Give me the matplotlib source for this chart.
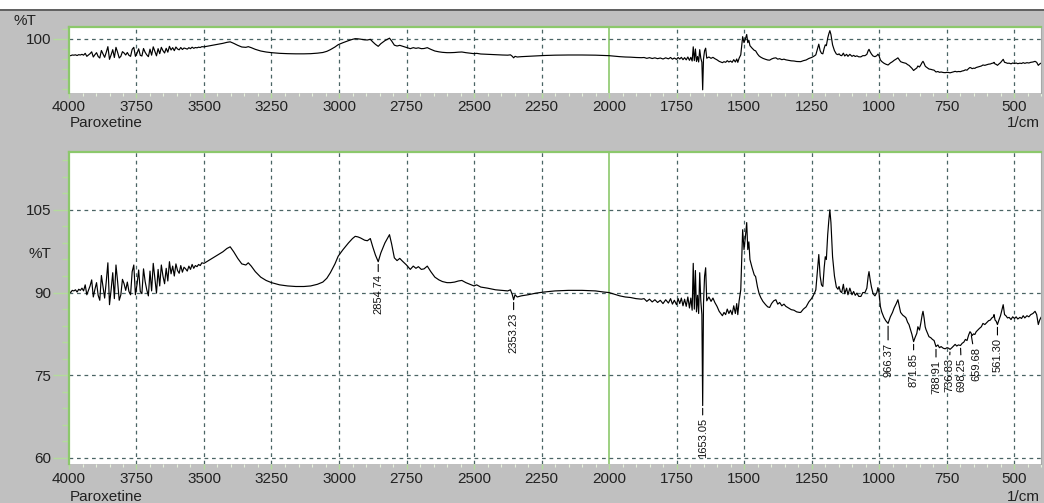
import numpy as np
import matplotlib
matplotlib.use("Agg")
import matplotlib.pyplot as plt
from matplotlib.ticker import FixedLocator, MultipleLocator
from matplotlib.patches import Rectangle
from matplotlib.lines import Line2D

plt.rcParams['font.family'] = ['Liberation Sans', 'DejaVu Sans']

# spectrum: wavenumber (1/cm) and %T
wn = [4000, 3994, 3988, 3982, 3976, 3970, 3964, 3958, 3952, 3946,
      3940, 3934, 3928, 3922, 3916, 3910, 3904, 3898, 3892, 3886,
      3880, 3874, 3868, 3862, 3856, 3850, 3844, 3838, 3832, 3826,
      3820, 3814, 3808, 3802, 3796, 3790, 3784, 3778, 3772, 3766,
      3760, 3754, 3748, 3742, 3736, 3730, 3724, 3718, 3712, 3706,
      3700, 3694, 3688, 3682, 3676, 3670, 3664, 3658, 3652, 3646,
      3640, 3634, 3628, 3622, 3616, 3610, 3604, 3598, 3592, 3586,
      3580, 3574, 3568, 3562, 3556, 3550, 3544, 3538, 3532, 3526,
      3520, 3514, 3508, 3500,
      3490, 3470, 3450, 3430, 3415, 3403, 3390, 3375, 3360, 3345,
      3336, 3325, 3310, 3290, 3270, 3250, 3220, 3190, 3160, 3130,
      3105, 3080, 3060, 3045, 3032, 3015, 3003, 2985, 2965, 2950,
      2940, 2930, 2920, 2905, 2895, 2884, 2875, 2865, 2854.74, 2845,
      2830, 2813, 2805, 2795, 2785, 2775, 2765, 2750, 2736, 2725,
      2715, 2706, 2695, 2685, 2673, 2660, 2645, 2630, 2617, 2600,
      2587, 2572, 2558, 2545, 2530, 2515, 2500, 2490, 2475, 2450,
      2420, 2395, 2375, 2365, 2358, 2353.23, 2348, 2340, 2325, 2300,
      2270, 2240, 2200, 2150, 2100, 2050, 2020, 2000, 1980, 1960,
      1940, 1920, 1900, 1880, 1870, 1860, 1850, 1840, 1830, 1820,
      1810, 1800, 1790, 1780, 1772, 1765, 1758, 1750, 1744, 1738,
      1732, 1726, 1720, 1714, 1708, 1702, 1697, 1692, 1688, 1684,
      1680, 1676, 1672, 1668, 1664, 1660, 1656, 1653.05, 1650, 1646,
      1642, 1638, 1630, 1622, 1615, 1608, 1600, 1592, 1586, 1580,
      1574, 1568, 1562, 1556, 1550, 1544, 1538, 1532, 1527, 1523,
      1518, 1512, 1508, 1505, 1500, 1495, 1490, 1486, 1482, 1478,
      1470, 1462, 1457, 1450, 1444, 1438, 1430, 1420, 1412, 1405,
      1398, 1390, 1382, 1375, 1368, 1360, 1352, 1345, 1335, 1325,
      1315, 1305, 1295, 1290, 1280, 1270, 1260, 1250, 1245, 1238,
      1234, 1228, 1223, 1218, 1213, 1208, 1203, 1199, 1195, 1190,
      1186, 1182, 1178, 1172, 1165, 1158, 1152, 1148, 1143, 1138,
      1132, 1127, 1120, 1115, 1108, 1100, 1094, 1088, 1082, 1075,
      1067, 1060, 1052, 1045, 1040, 1037, 1033, 1028, 1022, 1015,
      1008, 1004, 1000, 995, 990, 982, 975, 966.37, 958, 950,
      944, 936, 930, 926, 920, 912, 904, 900, 894, 889,
      884, 878, 871.85, 866, 860, 856, 850, 845, 840, 837,
      833, 829, 826, 820, 815, 808, 802, 796, 788.91, 782,
      776, 770, 762, 755, 748, 742, 736.83, 730, 724, 718,
      712, 706, 698.25, 692, 686, 680, 674, 668, 663, 659.68,
      655, 650, 645, 640, 634, 628, 621, 615, 608, 600,
      594, 588, 582, 576, 574, 570, 566, 561.30, 556, 550,
      545, 540, 535, 530, 524, 518, 511, 505, 498, 492,
      486, 478, 472, 466, 460, 452, 445, 438, 430, 422,
      416, 410, 405, 400]

T = [90.2, 90.0, 90.4, 90.3, 90.5, 90.1, 90.6, 90.4, 90.8, 90.3,
     91.4, 89.6, 90.4, 91.2, 92.3, 89.2, 90.6, 91.8, 89.5, 88.6,
     93.1, 91.0, 89.0, 92.0, 95.4, 87.8, 90.5, 93.6, 88.9, 95.0,
     92.0, 88.6, 89.6, 92.4, 91.6, 90.4, 91.9, 90.2, 89.6, 93.8,
     95.0, 89.6, 91.5, 94.1, 90.2, 89.8, 94.3, 92.0, 90.5, 89.4,
     93.9, 90.3, 95.3, 92.6, 89.9, 94.2, 91.2, 95.0, 93.0, 91.6,
     94.4, 92.1, 95.6, 93.4, 94.8, 93.0, 95.2, 94.0, 93.5, 94.9,
     93.7, 94.6, 94.3, 93.9, 94.8, 94.2, 95.1, 94.4, 94.9, 94.7,
     95.1, 94.9, 95.4, 95.3,
     95.6, 96.2, 96.8, 97.4, 98.0, 98.3, 97.4, 96.2, 95.2, 95.0,
     95.4, 94.8, 93.8, 92.8, 92.2, 91.8, 91.4, 91.2, 91.1, 91.1,
     91.2, 91.5, 91.9, 92.6, 93.6, 95.2, 96.6, 97.8, 99.0, 99.8,
     100.2, 100.1, 99.9, 99.5, 99.4, 99.8, 98.3, 96.8, 95.6, 97.2,
     99.0, 100.5, 98.8, 96.3, 95.8, 96.2, 95.7, 95.0, 94.2, 94.8,
     94.4, 94.7, 94.2, 94.3, 94.8, 93.8, 92.8, 92.3, 92.0, 91.8,
     91.8, 91.9, 92.1, 92.2, 91.8, 91.5, 91.2, 91.4, 91.0, 90.8,
     90.5, 90.4, 90.3, 90.5, 89.6, 88.7, 89.6, 89.2, 89.4, 89.6,
     89.9, 90.1, 90.3, 90.4, 90.4, 90.3, 90.1, 90.0, 89.7, 89.4,
     89.2, 89.1, 88.9, 88.8, 88.9, 88.4, 88.8, 88.3, 88.7, 88.2,
     88.6, 88.0, 88.7, 88.1, 88.9, 87.9, 88.6, 87.8, 88.9, 88.0,
     89.0, 87.6, 88.8, 87.5, 89.2, 87.2, 89.0, 86.8, 95.3, 87.0,
     94.0, 86.5, 89.5, 86.2, 93.6, 88.5, 86.0, 69.5, 88.0, 93.0,
     94.5, 88.5, 89.2, 88.4, 89.0, 88.2, 87.5, 86.6, 86.2, 85.8,
     86.4, 86.0, 87.0, 86.2, 86.8, 86.0, 87.6, 86.2, 88.0, 86.0,
     88.5, 90.5, 96.5, 101.4, 97.8, 100.0, 102.7, 97.8, 99.2, 96.0,
     94.5, 93.2, 92.9, 91.0, 89.8, 89.1, 88.4, 87.8, 87.4, 87.3,
     88.0, 88.5, 88.7, 87.9, 88.2, 87.6, 87.9, 87.5, 87.2, 86.9,
     86.8, 86.5, 86.4, 86.4, 87.0, 87.4, 88.3, 88.9, 89.3, 90.0,
     90.5, 94.0, 96.9, 93.0, 91.4, 91.1, 94.5, 96.5, 96.0, 100.5,
     103.0, 105.0, 102.7, 96.5, 93.0, 91.0, 90.6, 91.1, 90.2, 90.0,
     91.5, 89.8, 90.8, 89.6, 90.8, 89.6, 90.2, 89.5, 89.9, 89.3,
     89.3, 90.0, 90.0, 90.8, 93.0, 93.8, 92.4, 91.0, 89.8, 89.4,
     90.0, 90.9, 90.0, 87.5, 86.5, 85.5, 84.9, 84.4, 85.6, 86.4,
     87.2, 88.0, 88.7, 87.8, 86.4, 85.9, 85.6, 85.4, 84.6, 84.2,
     83.4, 82.4, 81.1, 81.9, 82.6, 83.8, 83.2, 84.5, 86.0, 86.6,
     85.4, 83.8, 83.3, 82.6, 82.0, 81.8, 81.5, 81.3, 80.2, 80.5,
     80.0, 80.2, 79.9, 79.8, 80.0, 79.9, 79.7, 80.0, 80.3, 80.6,
     80.3, 80.5, 80.4, 80.8, 81.0, 81.5, 81.3, 82.3, 82.9, 82.7,
     82.2, 82.5, 82.4, 82.9, 83.2, 83.5, 83.8, 84.4, 84.2, 84.6,
     84.9, 85.0, 85.4, 85.6, 86.0, 85.0, 84.8, 84.2, 85.0, 85.8,
     86.8, 87.8, 86.0, 85.8, 85.4, 85.5, 85.1, 85.6, 85.3, 85.6,
     85.2, 85.5, 85.3, 85.8, 85.4, 85.8, 85.6, 86.0, 86.2, 86.6,
     86.0, 84.2, 85.0, 85.5]

# marked peaks and where their labels sit
peak_wn = [2854.74, 2353.23, 1653.05, 966.37, 871.85, 788.91, 736.83, 698.25, 659.68, 561.30]
label_wn = [2854.74, 2353.23, 1653.05, 966.37, 871.85, 788.91, 741.0, 694.0, 641.0, 561.30]
label_T = [93.3, 86.4, 67.3, 80.9, 79.1, 77.8, 78.2, 78.2, 80.2, 81.8]

x_major = [4000, 3750, 3500, 3250, 3000, 2750, 2500, 2250, 2000, 1750, 1500, 1250, 1000, 750, 500]

W, H = 1044, 503
BG = '#c0c0c0'
GREEN = '#8cc86c'
TICKGREEN = '#b4dc9c'
GRID = '#4a6464'
FS = 11

fig = plt.figure(figsize=(W / 100, H / 100), dpi=100, facecolor=BG)
fig.add_artist(Rectangle((0, (H - 9) / H), 1, 9 / H, transform=fig.transFigure,
                         facecolor='white', edgecolor='none'))
fig.add_artist(Line2D([0, 1], [(H - 9.5) / H] * 2, transform=fig.transFigure,
                      color='#505050', lw=1.2))


def px_ax(x0, y0, x1, y1):
    return fig.add_axes([x0 / W, (H - y1) / H, (x1 - x0) / W, (y1 - y0) / H])


def style(ax, ylim, y_major, y_minor, hgrid, xpad):
    ax.set_facecolor('white')
    ax.plot(wn, T, color='black', lw=0.85)
    ax.set_xlim(4000, 400)
    ax.set_ylim(*ylim)
    for s in ['top', 'left']:
        ax.spines[s].set_color(GREEN)
        ax.spines[s].set_linewidth(1.6)
    ax.spines['right'].set_color('#a8a8a8')
    ax.spines['bottom'].set_visible(False)
    ax.xaxis.set_major_locator(FixedLocator(x_major))
    ax.xaxis.set_minor_locator(MultipleLocator(50))
    ax.xaxis.set_major_formatter(plt.FuncFormatter(lambda v, p: f"{v:.0f}"))
    ax.yaxis.set_major_locator(FixedLocator(y_major))
    ax.yaxis.set_minor_locator(FixedLocator(y_minor))
    ax.yaxis.set_major_formatter(plt.FuncFormatter(lambda v, p: f"{v:.0f}"))
    ax.tick_params(axis='x', which='major', direction='out', length=3.5, width=1,
                   color=TICKGREEN, labelsize=FS, labelcolor='#222222', pad=xpad)
    ax.tick_params(axis='x', which='minor', direction='out', length=2.5, width=0.8,
                   color='#e6f2dc')
    ax.tick_params(axis='y', which='major', direction='out', length=11.5, width=1,
                   color=TICKGREEN, labelsize=FS, labelcolor='#222222', pad=1.5)
    ax.tick_params(axis='y', which='minor', direction='out', length=5, width=1,
                   color=TICKGREEN)
    for v in x_major[1:]:
        if v == 2000:
            ax.axvline(v, color=GREEN, lw=1.2, zorder=0.5)
        else:
            ax.axvline(v, color=GRID, lw=0.9, ls=(0, (3, 3)), zorder=0.5)
    for v in hgrid:
        ax.axhline(v, color=GRID, lw=0.9, ls=(0, (3, 3)), zorder=0.5)


ax_top = px_ax(69, 27, 1041, 93)
style(ax_top, (67.6, 107.2), [100], [106, 94, 88, 82, 76, 70], [100], 1.5)

ax_bot = px_ax(69, 152, 1041, 464)
style(ax_bot, (58.9, 115.5), [60, 75, 90, 105],
      [63, 66, 69, 72, 78, 81, 84, 87, 93, 96, 99, 102, 108, 111, 114], [105, 90, 75, 60], 2.5)

T_at = dict(zip(wn, T))
for pw, lw_, lt in zip(peak_wn, label_wn, label_T):
    ax_bot.annotate(f"{pw:.2f}", xy=(pw, T_at[pw]), xytext=(lw_, lt), textcoords='data',
                    rotation=90, ha='center', va='top', fontsize=8, color='#111111',
                    arrowprops=dict(arrowstyle='-', color='black', lw=0.8,
                                    shrinkA=0, shrinkB=2))


def ftext(x, y, s, **kw):
    fig.text(x / W, (H - y) / H, s, fontsize=FS, color='#222222', **kw)


ftext(13, 25, '%T', ha='left', va='baseline')
ftext(51, 258, '%T', ha='right', va='baseline')
ftext(70, 127, 'Paroxetine', ha='left', va='baseline')
ftext(1040, 127, '1/cm', ha='right', va='baseline')
ftext(70, 501, 'Paroxetine', ha='left', va='baseline')
ftext(1040, 501, '1/cm', ha='right', va='baseline')

fig.savefig('out.png', dpi=100, facecolor=BG)
